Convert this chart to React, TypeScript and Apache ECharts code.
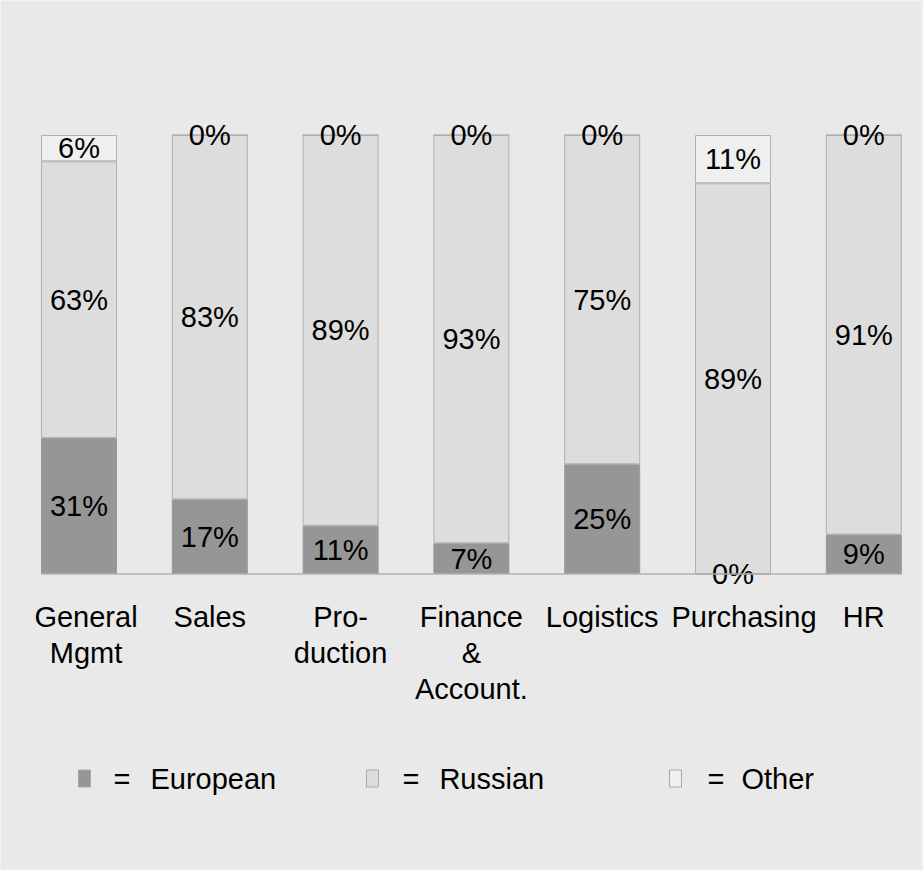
import React, { useEffect, useRef } from "react";
import * as echarts from "echarts";

const categories = ["General\nMgmt", "Sales", "Pro-\nduction", "Finance\n&\nAccount.", "Logistics", "Purchasing", "HR"];
const european = [31, 17, 11, 7, 25, 0, 9];
const russian = [63, 83, 89, 93, 75, 89, 91];
const other = [6, 0, 0, 0, 0, 11, 0];
const seriesNames = ["European", "Russian", "Other"];

const FONT = "'Liberation Sans', Arial, sans-serif";
const FS = 29;
const BAR_W = 76;
// horizontal nudge (left padding) of some category labels, as in the reference
const labelNudge: Record<number, number> = { 0: 14, 5: 22 };

export default function App() {
  const ref = useRef<HTMLDivElement>(null);
  useEffect(() => {
    if (!ref.current) return;
    const chart = echarts.init(ref.current, undefined, { renderer: "svg" });
    const label = {
      show: true,
      position: "inside",
      formatter: "{c}%",
      color: "#000",
      fontSize: FS,
      fontFamily: FONT,
    };
    const mkLegend = (name: string, left: number, pl: number, pr: number, color: string) => ({
      data: [name],
      left,
      top: 764,
      padding: 0,
      icon: "rect",
      itemWidth: 12,
      itemHeight: 17,
      itemStyle: { color, borderColor: "#a8a8a8", borderWidth: 1 },
      formatter: (n: string) => `{eq|=}{nm|${n}}`,
      textStyle: {
        fontFamily: FONT,
        fontSize: FS,
        color: "#000",
        rich: {
          eq: { fontFamily: FONT, fontSize: FS, color: "#000", padding: [0, pr, 0, pl] },
          nm: { fontFamily: FONT, fontSize: FS, color: "#000" },
        },
      },
    });
    const colors = ["#969696", "#dddddd", "#efefef"];
    const datas = [european, russian, other];
    const catData = categories.map((c, i) =>
      labelNudge[i] ? { value: c, textStyle: { padding: [0, 0, 0, labelNudge[i]] } } : c
    );
    chart.setOption({
      animation: false,
      backgroundColor: "#e9e9e9",
      textStyle: { fontFamily: FONT },
      grid: { left: 13.6, right: 0.8, top: 135, bottom: 296 },
      xAxis: {
        type: "category",
        data: catData,
        axisLine: { show: false },
        axisTick: { show: false },
        axisLabel: {
          interval: 0,
          fontSize: FS,
          lineHeight: 36,
          margin: 25,
          color: "#000",
          fontFamily: FONT,
        },
      },
      yAxis: { type: "value", min: 0, max: 100, show: false, splitLine: { show: false } },
      legend: [
        mkLegend("European", 78, 18, 20, colors[0]),
        mkLegend("Russian", 366, 19, 20, colors[1]),
        mkLegend("Other", 669, 21, 17, colors[2]),
      ],
      series: seriesNames.map((name, i) => ({
        name,
        type: "bar",
        stack: "total",
        barWidth: BAR_W,
        data: datas[i],
        itemStyle: { color: colors[i], borderColor: i === 0 ? "#9a9a9a" : "#b0b0b0", borderWidth: 1 },
        label,
      })),
    });
    const x0 = (chart.convertToPixel({ xAxisIndex: 0 }, 0) as number) - BAR_W / 2;
    const x1 = (chart.convertToPixel({ xAxisIndex: 0 }, categories.length - 1) as number) + BAR_W / 2;
    const y0 = chart.convertToPixel({ yAxisIndex: 0 }, 0) as number;
    chart.setOption({
      graphic: [
        {
          type: "rect",
          shape: { x: 0.5, y: 0.5, width: 921, height: 868 },
          style: { fill: "none", stroke: "#f3f3f3", lineWidth: 1 },
          silent: true,
        },
        {
          type: "line",
          shape: { x1: x0, y1: y0, x2: x1, y2: y0 },
          style: { stroke: "#b0b0b0", lineWidth: 1.5 },
          z: 10,
          silent: true,
        },
      ],
    });
    return () => chart.dispose();
  }, []);
  return <div ref={ref} style={{ position: "fixed", left: 0, top: 0, width: 930, height: 870 }} />;
}
